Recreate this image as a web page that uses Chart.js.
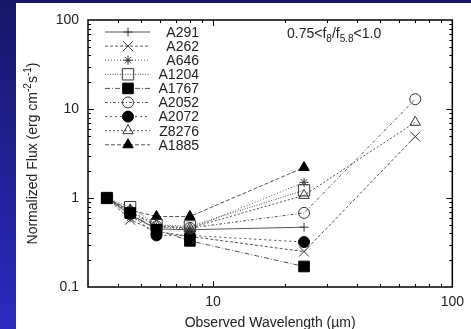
<!DOCTYPE html>
<html>
<head>
<meta charset="utf-8">
<script src="https://cdn.jsdelivr.net/npm/chart.js@4.4.1/dist/chart.umd.min.js"></script>
<style>
  html, body { margin: 0; padding: 0; }
  body {
    width: 471px; height: 329px; overflow: hidden; position: relative;
    background: linear-gradient(to bottom, #17176a, #2a2ac0);
  }
  #panel { position: absolute; left: 16px; top: 3px; right: 0; bottom: 0; background: #fff; }
  #chart { position: absolute; left: 0; top: 0; }
</style>
</head>
<body>
<div id="panel"></div>
<canvas id="chart" width="471" height="329"></canvas>
<script>
// Datos (flujo normalizado a 3.6 µm)
const wavelengths = [3.6, 4.5, 5.8, 8.0, 24, 70];
const clusterNames = ['A291', 'A262', 'A646', 'A1204', 'A1767', 'A2052', 'A2072', 'Z8276', 'A1885'];
const fluxA291  = [1, 0.65, 0.45, 0.44, 0.47, null];
const fluxA262  = [1, 0.57, 0.42, 0.37, 0.25, 4.9];
const fluxA646  = [1, 0.60, 0.47, 0.45, 1.50, null];
const fluxA1204 = [1, 0.79, 0.50, 0.48, 1.22, null];
const fluxA1767 = [1, 0.68, 0.44, 0.33, 0.17, null];
const fluxA2052 = [1, 0.70, 0.48, 0.46, 0.68, 12.9];
const fluxA2072 = [1, 0.66, 0.38, 0.38, 0.32, null];
const fluxZ8276 = [1, 0.72, 0.49, 0.46, 1.07, 7.1];
const fluxA1885 = [1, 0.73, 0.62, 0.62, 2.2, null];
const allFlux = [fluxA291, fluxA262, fluxA646, fluxA1204, fluxA1767, fluxA2052, fluxA2072, fluxZ8276, fluxA1885];

// Etiquetas de los ejes
const xTickLabels = [10, 100];
const yTickLabels = [0.1, 1, 10, 100];
const xMinorTicks = [4, 5, 6, 7, 8, 9, 20, 30, 40, 50, 60, 70, 80, 90];
const yMinorTicks = [0.2, 0.3, 0.4, 0.5, 0.6, 0.7, 0.8, 0.9, 2, 3, 4, 5, 6, 7, 8, 9, 20, 30, 40, 50, 60, 70, 80, 90];

// Estilo de cada serie
const styles = [
  { pointStyle: 'cross',    radius: 4.5, filled: false, dash: [] },
  { pointStyle: 'crossRot', radius: 7,   filled: false, dash: [3, 2] },
  { pointStyle: 'star',     radius: 4.5, filled: false, dash: [1, 2] },
  { pointStyle: 'rect',     radius: 8,   filled: false, dash: [1, 1.5] },
  { pointStyle: 'rect',     radius: 7.5, filled: true,  dash: [5, 2, 1, 2] },
  { pointStyle: 'circle',   radius: 5.5, filled: false, dash: [3, 2, 1, 2] },
  { pointStyle: 'circle',   radius: 5.5, filled: true,  dash: [2, 3] },
  { pointStyle: 'triangle', radius: 6,   filled: false, dash: [2, 2] },
  { pointStyle: 'triangle', radius: 6,   filled: true,  dash: [4, 2] }
];

const FONT = '"Liberation Sans", Arial, Helvetica, sans-serif';
const TEXT_COLOR = '#222';
const LINE_COLOR = '#555';

const datasets = clusterNames.map((name, i) => {
  const st = styles[i];
  return {
    label: name,
    data: wavelengths.map((w, k) => ({ x: w, y: allFlux[i][k] })).filter(p => p.y !== null),
    showLine: true,
    borderColor: LINE_COLOR,
    borderWidth: 1,
    borderDash: st.dash,
    pointStyle: st.pointStyle,
    pointRadius: st.radius,
    pointBorderWidth: 1,
    pointBorderColor: st.filled ? '#000' : '#333',
    pointBackgroundColor: st.filled ? '#000' : 'rgba(0,0,0,0)',
    order: name === 'A1767' ? -1 : 0
  };
});

// Dibuja texto con subíndices / superíndices
function drawRich(ctx, segs, x, y, align) {
  const base = '14px ' + FONT, small = '10px ' + FONT;
  let total = 0;
  segs.forEach(s => { ctx.font = (s.sub || s.sup) ? small : base; total += ctx.measureText(s.t).width; });
  let cx = align === 'center' ? x - total / 2 : x;
  ctx.textAlign = 'left';
  ctx.textBaseline = 'alphabetic';
  segs.forEach(s => {
    ctx.font = (s.sub || s.sup) ? small : base;
    const dy = s.sub ? 4 : (s.sup ? -6 : 0);
    ctx.fillText(s.t, cx, y + dy);
    cx += ctx.measureText(s.t).width;
  });
}

// Marco y marcas hacia adentro en los cuatro lados
const framePlugin = {
  id: 'frameTicks',
  afterDatasetsDraw(chart) {
    const { ctx, chartArea: a, scales: { x, y } } = chart;
    ctx.save();
    ctx.strokeStyle = '#000';
    ctx.lineWidth = 1;
    ctx.setLineDash([]);
    ctx.beginPath();
    const xt = xMinorTicks.map(v => [v, 3]).concat([[10, 6]]);
    xt.forEach(([v, len]) => {
      const px = Math.round(x.getPixelForValue(v)) + 0.5;
      ctx.moveTo(px, a.bottom); ctx.lineTo(px, a.bottom - len);
      ctx.moveTo(px, a.top); ctx.lineTo(px, a.top + len);
    });
    const yt = yMinorTicks.map(v => [v, 3]).concat([[1, 6], [10, 6]]);
    yt.forEach(([v, len]) => {
      const py = Math.round(y.getPixelForValue(v)) + 0.5;
      ctx.moveTo(a.left, py); ctx.lineTo(a.left + len, py);
      ctx.moveTo(a.right, py); ctx.lineTo(a.right - len, py);
    });
    ctx.stroke();
    ctx.lineWidth = 1.5;
    ctx.strokeRect(a.left, a.top, a.right - a.left, a.bottom - a.top);
    ctx.restore();
  }
};

// Títulos, anotación y leyenda
const textPlugin = {
  id: 'texts',
  afterDraw(chart) {
    const { ctx, chartArea: a } = chart;
    ctx.save();
    ctx.fillStyle = TEXT_COLOR;

    // Título eje X
    drawRich(ctx, [{ t: 'Observed Wavelength (\u00b5m)' }], (a.left + a.right) / 2, 327, 'center');

    // Título eje Y (rotado)
    ctx.save();
    ctx.translate(37, (a.top + a.bottom) / 2);
    ctx.rotate(-Math.PI / 2);
    drawRich(ctx, [
      { t: 'Normalized Flux (erg cm' }, { t: '-2', sup: true },
      { t: 's' }, { t: '-1', sup: true }, { t: ')' }
    ], 0, 0, 'center');
    ctx.restore();

    // Anotación
    drawRich(ctx, [
      { t: '0.75<f' }, { t: '8', sub: true }, { t: '/f' }, { t: '5.8', sub: true }, { t: '<1.0' }
    ], 287, 38, 'left');

    // Leyenda
    clusterNames.forEach((name, i) => {
      const st = styles[i];
      const ly = 32 + i * 14.1;
      ctx.strokeStyle = LINE_COLOR;
      ctx.lineWidth = 1;
      ctx.setLineDash(st.dash);
      ctx.beginPath();
      ctx.moveTo(105, ly); ctx.lineTo(150, ly);
      ctx.stroke();
      ctx.setLineDash([]);
      ctx.strokeStyle = st.filled ? '#000' : '#333';
      ctx.fillStyle = st.filled ? '#000' : 'rgba(0,0,0,0)';
      Chart.helpers.drawPoint(ctx, { pointStyle: st.pointStyle, rotation: 0, radius: st.radius, borderWidth: 1 }, 128, ly);
      ctx.fillStyle = TEXT_COLOR;
      ctx.font = '14px ' + FONT;
      ctx.textAlign = 'right';
      ctx.textBaseline = 'middle';
      ctx.fillText(name, 199, ly + 1);
    });
    ctx.restore();
  }
};

new Chart(document.getElementById('chart'), {
  type: 'scatter',
  data: { datasets: datasets },
  options: {
    responsive: false,
    animation: false,
    layout: { padding: { top: 20, right: 14, left: 0, bottom: 0 } },
    plugins: { legend: { display: false }, tooltip: { enabled: false } },
    scales: {
      x: {
        type: 'logarithmic',
        min: 3, max: 100,
        grid: { display: false, drawTicks: false },
        border: { display: false },
        afterBuildTicks: s => { s.ticks = xTickLabels.map(v => ({ value: v })); },
        afterFit: s => { s.height = 42; },
        ticks: {
          padding: 7, autoSkip: false, maxRotation: 0,
          color: TEXT_COLOR, font: { family: FONT, size: 14 },
          callback: v => String(v)
        }
      },
      y: {
        type: 'logarithmic',
        min: 0.1, max: 100,
        grid: { display: false, drawTicks: false },
        border: { display: false },
        afterBuildTicks: s => { s.ticks = yTickLabels.map(v => ({ value: v })); },
        afterFit: s => { s.width = 88; },
        ticks: {
          padding: 9, autoSkip: false,
          color: TEXT_COLOR, font: { family: FONT, size: 14 },
          callback: v => String(v)
        }
      }
    }
  },
  plugins: [framePlugin, textPlugin]
});
</script>
</body>
</html>
